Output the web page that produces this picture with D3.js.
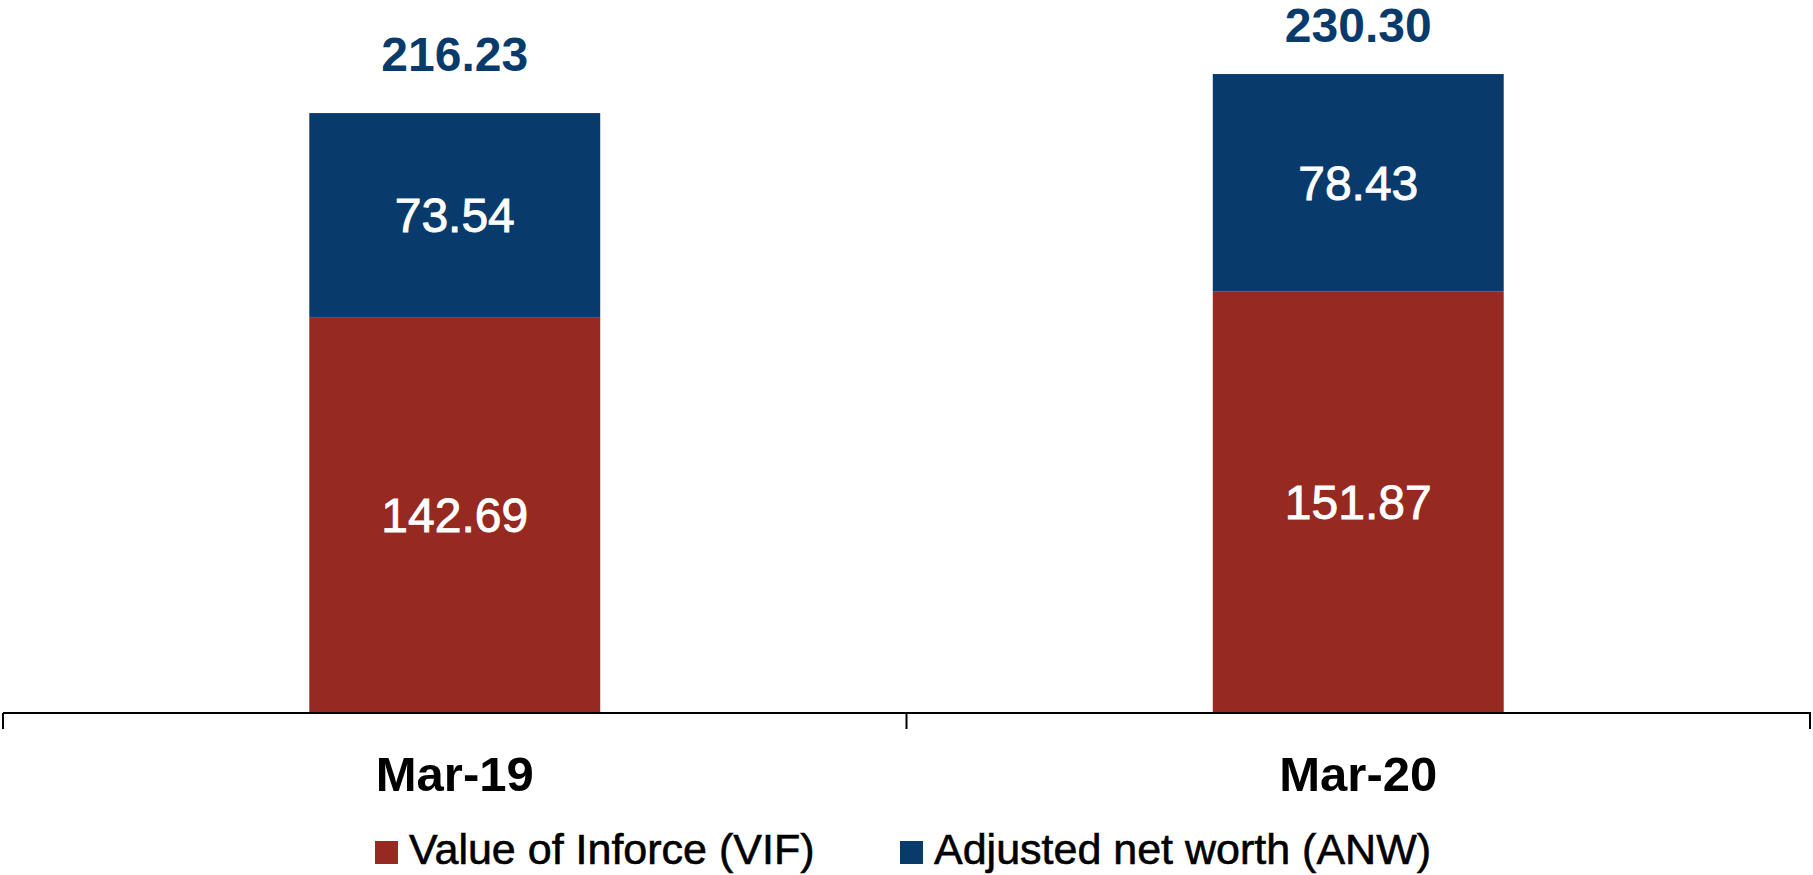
<!DOCTYPE html>
<html>
<head>
<meta charset="utf-8">
<script src="https://cdn.jsdelivr.net/npm/d3@7"></script>
<style>
  html, body { margin: 0; padding: 0; background: #fff; }
  svg { display: block; font-family: "Liberation Sans", Arial, sans-serif; }
</style>
</head>
<body>
<div id="chart"></div>
<script>
///////////////////// Data ////////////////////////
var categories = ["Mar-19", "Mar-20"];
var vif = [142.69, 151.87];      // Value of Inforce (VIF)
var anw = [73.54, 78.43];        // Adjusted net worth (ANW)
var totals = [216.23, 230.30];
var seriesNames = ["Value of Inforce (VIF)", "Adjusted net worth (ANW)"];
var seriesKeys = ["vif", "anw"];
///////////////////////////////////////////////////

var width = 1813;
var height = 875;
var color = d3.scaleOrdinal().domain(seriesKeys).range(["#962920", "#083b6c"]);

// build rows for the stack
var rows = categories.map(function (c, i) {
  return { cat: c, vif: vif[i], anw: anw[i], total: totals[i] };
});

var svg = d3.select("#chart").append("svg")
  .attr("width", width)
  .attr("height", height);

var x = d3.scaleBand()
  .domain(categories)
  .range([3, 1810])
  .padding(0);

var y = d3.scaleLinear()
  .domain([0, 250])
  .range([713, 19.4]);

var barW = x.bandwidth() * 0.322;

var stack = d3.stack().keys(seriesKeys);
var stacked = stack(rows);

// bars
var layers = svg.selectAll("g.layer")
  .data(stacked)
  .enter().append("g")
  .attr("class", "layer")
  .attr("fill", function (d) { return color(d.key); });

layers.selectAll("rect")
  .data(function (d) { return d; })
  .enter().append("rect")
  .attr("x", function (d) { return x(d.data.cat) + x.bandwidth() / 2 - barW / 2; })
  .attr("width", barW)
  .attr("y", function (d) { return y(d[1]); })
  .attr("height", function (d) { return y(d[0]) - y(d[1]); });

// value labels inside segments (thin stroke to thicken the regular face a bit)
layers.selectAll("text")
  .data(function (d) { return d.map(function (p) { return { p: p, key: d.key }; }); })
  .enter().append("text")
  .attr("x", function (d) { return x(d.p.data.cat) + x.bandwidth() / 2; })
  .attr("y", function (d) { return (y(d.p[0]) + y(d.p[1])) / 2; })
  .attr("dy", "0.35em")
  .attr("text-anchor", "middle")
  .attr("fill", "#fff")
  .attr("stroke", "#fff")
  .attr("stroke-width", 0.9)
  .style("font-size", "48px")
  .text(function (d) { return d.p.data[d.key].toFixed(2); });

// totals above bars (kept inside the top of the picture)
svg.selectAll("text.total")
  .data(rows)
  .enter().append("text")
  .attr("class", "total")
  .attr("x", function (d) { return x(d.cat) + x.bandwidth() / 2; })
  .attr("y", function (d) { return Math.max(y(d.total) - 42, 42); })
  .attr("text-anchor", "middle")
  .attr("fill", "#083b6c")
  .style("font-size", "48px")
  .style("font-weight", "bold")
  .text(function (d) { return d.total.toFixed(2); });

// x axis: baseline with ticks at band edges
var axis = svg.append("g").attr("class", "axis");
axis.append("line")
  .attr("x1", x.range()[0]).attr("x2", x.range()[1] + 1)
  .attr("y1", y(0)).attr("y2", y(0))
  .attr("stroke", "#000").attr("stroke-width", 2);

var edges = categories.map(function (c) { return x(c); }).concat([x.range()[1]]);
axis.selectAll("line.tick")
  .data(edges)
  .enter().append("line")
  .attr("class", "tick")
  .attr("x1", function (d) { return d; }).attr("x2", function (d) { return d; })
  .attr("y1", y(0)).attr("y2", y(0) + 16)
  .attr("stroke", "#000").attr("stroke-width", 2);

axis.selectAll("text")
  .data(categories)
  .enter().append("text")
  .attr("x", function (d) { return x(d) + x.bandwidth() / 2; })
  .attr("y", 791)
  .attr("text-anchor", "middle")
  .attr("fill", "#000")
  .style("font-size", "49px")
  .style("font-weight", "bold")
  .text(function (d) { return d; });

// legend
var legendX = [375, 900];
var legend = svg.append("g").attr("class", "legend");
seriesKeys.forEach(function (k, i) {
  legend.append("rect")
    .attr("x", legendX[i]).attr("y", 841)
    .attr("width", 23).attr("height", 23)
    .attr("fill", color(k));
  legend.append("text")
    .attr("x", legendX[i] + 34)
    .attr("y", 864)
    .attr("fill", "#000")
    .attr("stroke", "#000")
    .attr("stroke-width", 0.6)
    .style("font-size", "43px")
    .text(seriesNames[i]);
});
</script>
</body>
</html>
